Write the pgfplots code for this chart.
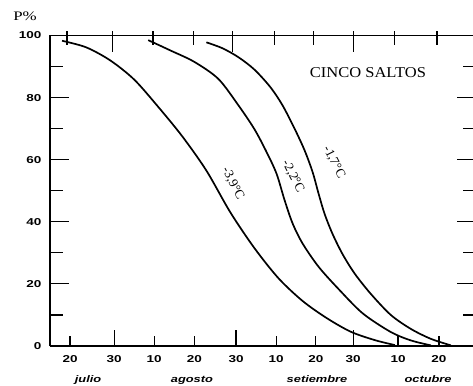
\documentclass[border=0pt]{standalone}
\usepackage{pgfplots}
\pgfplotsset{compat=1.18}
\usepackage{fontspec}
\setmainfont{Liberation Serif}
\newfontfamily\tickfont[FakeStretch=1.35]{Liberation Sans}
\newfontfamily\titlefont[FakeStretch=1.1]{Liberation Serif}
\newfontfamily\labfont[FakeStretch=1.3]{Liberation Serif}
\pgfplotsset{
  base/.style={at={(0,0)}, anchor=south west, scale only axis,
    width=423pt, height=310.5pt,
    xmin=15, xmax=120.5, ymin=0, ymax=100,
    tick align=inside,
    tick style={black, line width=1.2pt},
    axis line style={black, line width=1.5pt},
    clip=false},
}
\begin{document}
\begin{tikzpicture}
\useasboundingbox (-50pt,-39pt) rectangle (423pt,346pt);
% bottom axis with data
\begin{axis}[base,
  axis x line*=bottom, axis y line*=left,
  ytick=\empty,
  xtick={20,31,41,51,61.4,71.4,81.3,90.6,101.8,112},
  xticklabels={20,30,10,20,30,10,20,30,10,20},
  minor xtick={31,61.4,90.6},
  major tick length=10pt, minor tick length=16pt,
  xticklabel style={font=\tickfont\bfseries\fontsize{10}{10}\selectfont, yshift=-6pt},
]
\addplot[black, line width=1.7pt, smooth] coordinates {
(18,98.3)(24,96.2)(30,92.0)(36,85.8)(42,77.0)(48,67.5)(54,56.5)(60,43.0)(66,31.5)(72,21.8)(78,14.5)(84,9.0)(90,4.6)(96,1.9)(101,0.3)};
\addplot[black, line width=1.7pt, smooth] coordinates {
(39.5,98.5)(45,95.2)(51,91.5)(57,86.0)(62,77.5)(66,69.8)(69,62.5)(71.5,55.5)(73.5,47.0)(75.5,39.5)(78,33.0)(82,25.5)(87,18.3)(93,10.5)(100,4.5)(105,1.8)(110,0.2)};
\addplot[black, line width=1.7pt, smooth] coordinates {
(54,97.8)(58,95.9)(62,93.0)(66,89.0)(70,83.3)(73,77.5)(76,70.0)(78.5,63.0)(80.5,56.0)(82,49.0)(83.5,42.5)(85.5,36.0)(88,29.5)(91,23.3)(95,16.8)(100,10.0)(105,5.5)(110,2.3)(115,0.2)};
\node[rotate=-63, font=\fontsize{13}{13}\selectfont] at (axis cs:60.6,52.3) {-3,9°C};
\node[rotate=-63, font=\fontsize{13}{13}\selectfont] at (axis cs:75.6,54.6) {-2,2°C};
\node[rotate=-63, font=\fontsize{13}{13}\selectfont] at (axis cs:85.8,59.2) {-1,7°C};
\node[font=\titlefont\fontsize{15}{15}\selectfont] at (axis cs:94.3,87.9) {CINCO SALTOS};
\node[anchor=base, font=\tickfont\bfseries\itshape\fontsize{9.5}{9.5}\selectfont] at (axis cs:24.5,0) [yshift=-36pt] {julio};
\node[anchor=base, font=\tickfont\bfseries\itshape\fontsize{9.5}{9.5}\selectfont] at (axis cs:50.4,0) [yshift=-36pt] {agosto};
\node[anchor=base, font=\tickfont\bfseries\itshape\fontsize{9.5}{9.5}\selectfont] at (axis cs:81.6,0) [yshift=-36pt] {setiembre};
\node[anchor=base, font=\tickfont\bfseries\itshape\fontsize{9.5}{9.5}\selectfont] at (axis cs:109.3,0) [yshift=-36pt] {octubre};
\end{axis}
% left axis ticks
\begin{axis}[base,
  axis x line*=bottom, axis y line*=left,
  axis line style={draw=none},
  xtick=\empty,
  ytick={0,20,40,60,80,100},
  yticklabels={0,20,40,60,80,100},
  minor ytick={10,30,50,70,90},
  major tick length=19pt, minor tick length=13pt,
  yticklabel style={font=\tickfont\bfseries\fontsize{10}{10}\selectfont, xshift=-5pt},
]
\end{axis}
% top axis ticks
\begin{axis}[base,
  axis x line*=top, axis y line*=right,
  y axis line style={draw=none},
  ytick=\empty,
  xtick={19.25,40.7,50.7,70.9,80.8,101.0,111.5},
  xticklabels={},
  minor xtick={30.5,60.6,90.6},
  major tick length=14pt, minor tick length=21pt,
  xtick style={yshift=4pt},
]
\end{axis}
% right axis ticks
\begin{axis}[base,
  axis x line*=top, axis y line*=right,
  axis line style={draw=none},
  xtick=\empty,
  ytick={20,40,60,80},
  yticklabels={},
  minor ytick={10,30,50,70,90},
  major tick length=16pt, minor tick length=10pt,
]
\end{axis}
\node[font=\labfont\fontsize{13}{13}\selectfont] at (-25pt,330pt) {P\%};
\end{tikzpicture}
\end{document}
